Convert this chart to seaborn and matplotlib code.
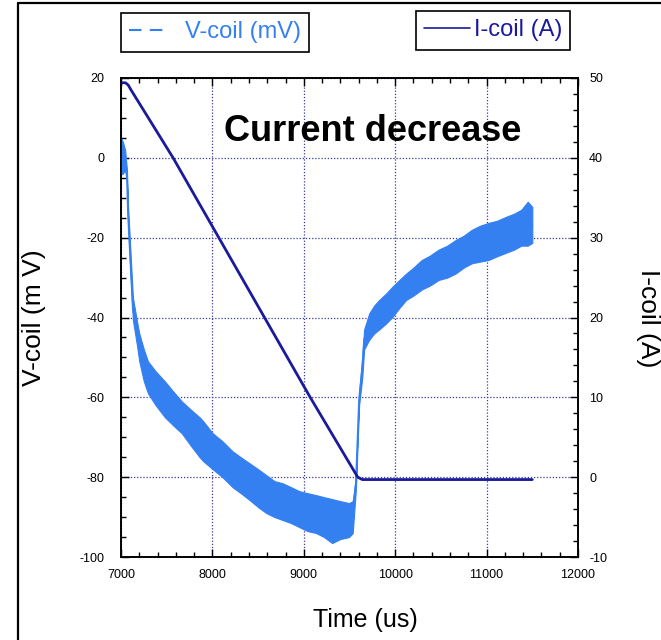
import matplotlib
matplotlib.use("Agg")
import matplotlib.pyplot as plt
import seaborn as sns
import pandas as pd
from matplotlib.ticker import MultipleLocator
from matplotlib.lines import Line2D

# V-coil noisy trace: envelope (us, mV)
v_time = [7000, 7020, 7045, 7065, 7077, 7100, 7130, 7175, 7200, 7250, 7295, 7380,
          7480, 7570, 7665, 7760, 7860, 7900, 8003, 8110, 8220, 8310, 8405, 8500,
          8590, 8680, 8765, 8860, 8950, 9040, 9135, 9220, 9310, 9400, 9495, 9535,
          9570, 9605, 9640, 9660, 9715, 9770, 9825, 9900, 9965, 10050, 10120,
          10200, 10290, 10380, 10475, 10570, 10660, 10750, 10840, 10930, 11020,
          11110, 11210, 11300, 11380, 11450, 11500]
v_upper = [5, 4, 2, -3, -12, -22, -35, -41, -44, -48, -51, -53.5,
           -56, -58.5, -61, -63, -65, -66, -69, -71, -73.5, -75, -76.5, -78,
           -79.5, -81, -81.5, -82.5, -83.5, -84, -84.5, -85, -85.5, -86, -86.5, -86,
           -80, -59, -50, -43, -39, -37, -35.6, -34, -32.4, -30.5, -29,
           -27.5, -25.6, -24.5, -23, -22, -20.6, -19.5, -18, -17, -16.3,
           -15.8, -14.8, -14, -13, -11, -12.3]
v_lower = [-4, -4, -3, -6, -16, -27, -40.6, -47, -51, -56, -59, -62,
           -65, -67, -69, -72, -75, -76, -78, -80, -82.5, -84, -85.7, -87.5,
           -89, -90, -90.7, -91.5, -92.5, -93.5, -94, -95, -96.5, -95.5, -95, -94,
           -83, -62, -55, -48, -45.6, -44, -43, -41.5, -40, -37.5, -35.6,
           -34.5, -33, -32, -30.6, -30, -29, -27.5, -26.4, -26, -25.6,
           -24.7, -23.8, -23, -22, -22, -21.3]

# I-coil ramp (us, A)
i_time = [7000, 7050, 7080, 7110, 7570, 9070, 9590, 9640, 11500]
i_value = [49.4, 49.4, 49.1, 48.5, 40.0, 10.0, 0.0, -0.3, -0.3]

V_COLOR = "#3580f0"
I_COLOR = "#1a1a9a"

sns.set_style("ticks")
plt.rcParams['font.family'] = ['Liberation Sans', 'DejaVu Sans']
plt.rcParams['axes.unicode_minus'] = False
plt.rcParams['text.color'] = 'black'
plt.rcParams['xtick.color'] = 'black'
plt.rcParams['ytick.color'] = 'black'

fig = plt.figure(figsize=(6.61, 6.40), dpi=100)
ax = fig.add_axes([121/661, 1 - 557/640, (578 - 121)/661, (557 - 78)/640])
ax2 = ax.twinx()

vdf = pd.DataFrame({"t": v_time, "lo": v_lower, "hi": v_upper})
vdf["mid"] = (vdf["lo"] + vdf["hi"]) / 2
idf = pd.DataFrame({"t": i_time, "i": i_value})

# V-coil band + centre line
ax.fill_between(vdf["t"], vdf["lo"], vdf["hi"], color=V_COLOR, lw=0.8, zorder=3)
sns.lineplot(data=vdf, x="t", y="mid", ax=ax, color=V_COLOR, lw=1.3, zorder=3)

# I-coil
sns.lineplot(data=idf, x="t", y="i", ax=ax2, color=I_COLOR, lw=2.0)

ax.set_xlim(7000, 12000)
ax.set_ylim(-100, 20)
ax2.set_ylim(-10, 50)

ax.xaxis.set_major_locator(MultipleLocator(1000))
ax.xaxis.set_minor_locator(MultipleLocator(200))
ax.yaxis.set_major_locator(MultipleLocator(20))
ax.yaxis.set_minor_locator(MultipleLocator(5))
ax2.yaxis.set_major_locator(MultipleLocator(10))
ax2.yaxis.set_minor_locator(MultipleLocator(2))

ax.grid(True, which="major", color="#3a3a9a", ls=(0, (1, 1.5)), lw=0.9)
ax.set_axisbelow(True)

ax.tick_params(which="both", direction="in", top=True, right=False,
               labelsize=9, width=1, colors="black")
ax.tick_params(which="major", length=6)
ax.tick_params(which="minor", length=3.5)
ax.tick_params(axis="y", pad=12)
ax.tick_params(axis="x", pad=9)
ax2.tick_params(which="both", direction="in", labelsize=9, width=1, pad=8,
                colors="black")
ax2.tick_params(which="major", length=6)
ax2.tick_params(which="minor", length=3.5)

for a in (ax, ax2):
    for s in a.spines.values():
        s.set_visible(True)
        s.set_color("black")
        s.set_linewidth(1.2)

ax.set_xlabel("")
ax.set_ylabel("")
ax2.set_ylabel("")

fig.text(34/661, 1 - 318/640, "V-coil (m V)", rotation=90, fontsize=19,
         ha="center", va="center")
fig.text(648/661, 1 - 318/640, "I-coil (A)", rotation=-90, fontsize=19,
         ha="center", va="center")
fig.text(365/661, 1 - 620/640, "Time (us)", fontsize=18, ha="center", va="center")

ax.text(8130, 6.5, "Current decrease", fontsize=26, fontweight="bold",
        color="black", ha="left", va="center", zorder=5)

# legends in two boxes above the plot
h_v = Line2D([], [], color=V_COLOR, lw=1.5, linestyle=(0, (6, 4)))
h_i = Line2D([], [], color=I_COLOR, lw=1.2)
leg_v = fig.legend([h_v], ["V-coil (mV)"], loc="upper left",
                   bbox_to_anchor=(121/661, 1 - 13/640), fontsize=17,
                   labelcolor=V_COLOR, fancybox=False, edgecolor="black",
                   framealpha=1, borderpad=0.35, handlelength=1.7,
                   handletextpad=0.65, borderaxespad=0)
leg_v.get_frame().set_linewidth(1.2)
leg_i = fig.legend([h_i], ["I-coil (A)"], loc="upper left",
                   bbox_to_anchor=(416/661, 1 - 11/640), fontsize=17,
                   labelcolor=I_COLOR, fancybox=False, edgecolor="black",
                   framealpha=1, borderpad=0.35, handlelength=1.95,
                   handletextpad=0.15, borderaxespad=0)
leg_i.get_frame().set_linewidth(1.2)

# outer frame (partially cropped in the original)
fig.add_artist(Line2D([18/661, 18/661], [0, 1 - 3/640], color="black", lw=1.6,
                      transform=fig.transFigure))
fig.add_artist(Line2D([18/661, 1], [1 - 3/640, 1 - 3/640], color="black", lw=1.6,
                      transform=fig.transFigure))

fig.savefig("out.png", dpi=100)
